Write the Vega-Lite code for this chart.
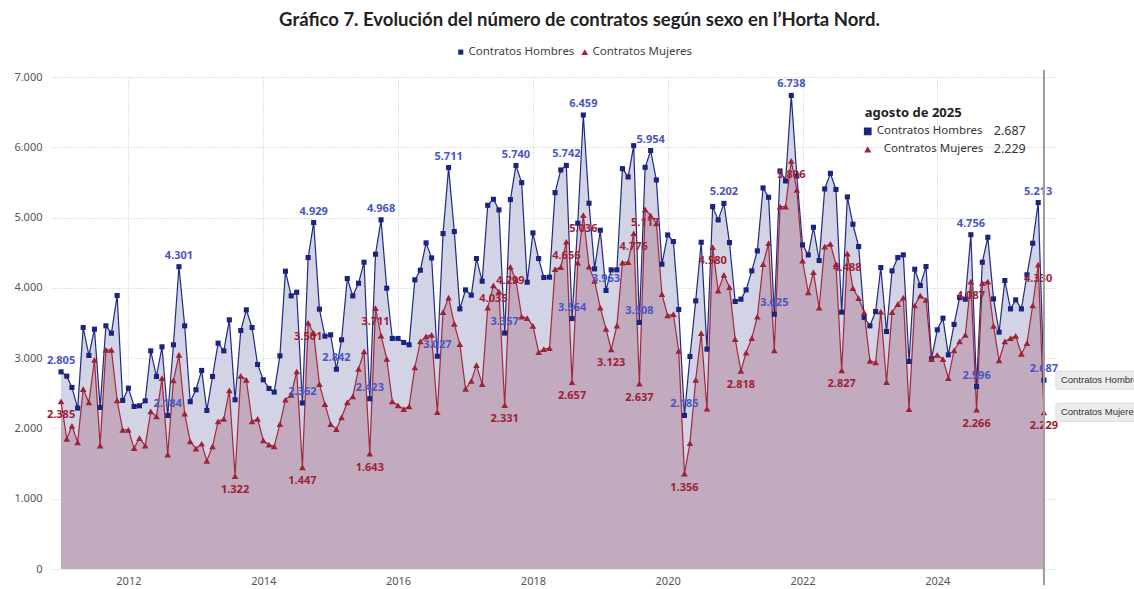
{
"$schema": "https://vega.github.io/schema/vega-lite/v6.json",
"width": 1003, "height": 492,
"autosize": {"type": "none"},
"padding": {"left": 52, "top": 77, "right": 79, "bottom": 20},
"background": "white",
"title": {"text": "Gráfico 7. Evolución del número de contratos según sexo en l’Horta Nord.", "anchor": "middle", "dx": 26, "offset": 17, "font": "Lato", "fontSize": 18.5, "fontWeight": "bold", "color": "#222222"},
"config": {
  "locale": {"number": {"decimal": ",", "thousands": ".", "grouping": [3], "currency": ["", " €"]}},
  "view": {"stroke": null},
  "axis": {"grid": true, "gridColor": "#c4c4c4", "gridDash": [1, 2], "domain": false, "ticks": false, "labelFont": "Noto Sans", "labelFontSize": 11, "labelColor": "#555555", "title": null}
},
"data": {"format": {"parse": {"d": "date:'%Y-%m'"}}, "values": [
{"d":"2011-01","h":2805,"m":2385,"lh":1,"lm":1},{"d":"2011-02","h":2744,"m":1853},{"d":"2011-03","h":2583,"m":2038},{"d":"2011-04","h":2289,"m":1801},{"d":"2011-05","h":3436,"m":2559},{"d":"2011-06","h":3038,"m":2370},{"d":"2011-07","h":3412,"m":2976},{"d":"2011-08","h":2299,"m":1754},{"d":"2011-09","h":3460,"m":3118},{"d":"2011-10","h":3355,"m":3118},{"d":"2011-11","h":3891,"m":2398},{"d":"2011-12","h":2398,"m":1981},
{"d":"2012-01","h":2573,"m":1981},{"d":"2012-02","h":2313,"m":1720},{"d":"2012-03","h":2322,"m":1863},{"d":"2012-04","h":2393,"m":1754},{"d":"2012-05","h":3104,"m":2242},{"d":"2012-06","h":2739,"m":2171},{"d":"2012-07","h":3161,"m":2716},{"d":"2012-08","h":2184,"m":1626,"lh":1},{"d":"2012-09","h":3190,"m":2682},{"d":"2012-10","h":4301,"m":3047,"lh":1},{"d":"2012-11","h":3460,"m":2209},{"d":"2012-12","h":2380,"m":1815},
{"d":"2013-01","h":2550,"m":1711},{"d":"2013-02","h":2825,"m":1782},{"d":"2013-03","h":2256,"m":1540},{"d":"2013-04","h":2739,"m":1744},{"d":"2013-05","h":3213,"m":2100},{"d":"2013-06","h":3104,"m":2137},{"d":"2013-07","h":3545,"m":2540},{"d":"2013-08","h":2408,"m":1322,"lm":1},{"d":"2013-09","h":3393,"m":2749},{"d":"2013-10","h":3687,"m":2692},{"d":"2013-11","h":3436,"m":2100},{"d":"2013-12","h":2910,"m":2137},
{"d":"2014-01","h":2692,"m":1829},{"d":"2014-02","h":2569,"m":1768},{"d":"2014-03","h":2517,"m":1744},{"d":"2014-04","h":3033,"m":2062},{"d":"2014-05","h":4237,"m":2408},{"d":"2014-06","h":3886,"m":2479},{"d":"2014-07","h":3938,"m":2810},{"d":"2014-08","h":2362,"m":1447,"lh":1,"lm":1},{"d":"2014-09","h":4431,"m":3501,"lm":1},{"d":"2014-10","h":4929,"m":3355,"lh":1},{"d":"2014-11","h":3697,"m":2630},{"d":"2014-12","h":3313,"m":2346},
{"d":"2015-01","h":3332,"m":2062},{"d":"2015-02","h":2842,"m":1990,"lh":1},{"d":"2015-03","h":3261,"m":2156},{"d":"2015-04","h":4133,"m":2370},{"d":"2015-05","h":3886,"m":2455},{"d":"2015-06","h":4066,"m":2848},{"d":"2015-07","h":4365,"m":3095},{"d":"2015-08","h":2423,"m":1643,"lh":1,"lm":1},{"d":"2015-09","h":4479,"m":3711,"lm":1},{"d":"2015-10","h":4968,"m":3322,"lh":1},{"d":"2015-11","h":3995,"m":2990},{"d":"2015-12","h":3280,"m":2384},
{"d":"2016-01","h":3280,"m":2327},{"d":"2016-02","h":3223,"m":2275},{"d":"2016-03","h":3190,"m":2313},{"d":"2016-04","h":4114,"m":2867},{"d":"2016-05","h":4251,"m":3237},{"d":"2016-06","h":4640,"m":3308},{"d":"2016-07","h":4426,"m":3332},{"d":"2016-08","h":3027,"m":2232,"lh":1},{"d":"2016-09","h":4772,"m":3654},{"d":"2016-10","h":5711,"m":3862,"lh":1},{"d":"2016-11","h":4801,"m":3488},{"d":"2016-12","h":3701,"m":3199},
{"d":"2017-01","h":3971,"m":2564},{"d":"2017-02","h":3896,"m":2678},{"d":"2017-03","h":4417,"m":2900},{"d":"2017-04","h":4095,"m":2630},{"d":"2017-05","h":5175,"m":3720},{"d":"2017-06","h":5260,"m":4035,"lm":1},{"d":"2017-07","h":5109,"m":3948},{"d":"2017-08","h":3357,"m":2331,"lh":1,"lm":1},{"d":"2017-09","h":5256,"m":4299,"lm":1},{"d":"2017-10","h":5740,"m":4109,"lh":1},{"d":"2017-11","h":5497,"m":3592},{"d":"2017-12","h":4080,"m":3569},
{"d":"2018-01","h":4782,"m":3460},{"d":"2018-02","h":4417,"m":3085},{"d":"2018-03","h":4147,"m":3128},{"d":"2018-04","h":4152,"m":3142},{"d":"2018-05","h":5355,"m":4265},{"d":"2018-06","h":5677,"m":4294},{"d":"2018-07","h":5742,"m":4656,"lh":1,"lm":1},{"d":"2018-08","h":3564,"m":2657,"lh":1,"lm":1},{"d":"2018-09","h":4919,"m":4360},{"d":"2018-10","h":6459,"m":5036,"lh":1,"lm":1},{"d":"2018-11","h":5204,"m":4303},{"d":"2018-12","h":4270,"m":4099},
{"d":"2019-01","h":4820,"m":3720},{"d":"2019-02","h":3963,"m":3417,"lh":1},{"d":"2019-03","h":4256,"m":3123,"lm":1},{"d":"2019-04","h":4256,"m":3464},{"d":"2019-05","h":5696,"m":4360},{"d":"2019-06","h":5578,"m":4365},{"d":"2019-07","h":6023,"m":4776,"lm":1},{"d":"2019-08","h":3508,"m":2637,"lh":1,"lm":1},{"d":"2019-09","h":5715,"m":5117,"lm":1},{"d":"2019-10","h":5954,"m":5028,"lh":1},{"d":"2019-11","h":5535,"m":4919},{"d":"2019-12","h":4336,"m":3910},
{"d":"2020-01","h":4753,"m":3607},{"d":"2020-02","h":4659,"m":3626},{"d":"2020-03","h":3692,"m":3104},{"d":"2020-04","h":2185,"m":1356,"lh":1,"lm":1},{"d":"2020-05","h":3024,"m":1791},{"d":"2020-06","h":3815,"m":2692},{"d":"2020-07","h":4649,"m":3355},{"d":"2020-08","h":3128,"m":2280},{"d":"2020-09","h":5156,"m":4580,"lm":1},{"d":"2020-10","h":4967,"m":3962},{"d":"2020-11","h":5202,"m":4185,"lh":1},{"d":"2020-12","h":4644,"m":4009},
{"d":"2021-01","h":3806,"m":3270},{"d":"2021-02","h":3839,"m":2818,"lm":1},{"d":"2021-03","h":3971,"m":3080},{"d":"2021-04","h":4242,"m":3284},{"d":"2021-05","h":4526,"m":3592},{"d":"2021-06","h":5422,"m":4336},{"d":"2021-07","h":5289,"m":4635},{"d":"2021-08","h":3625,"m":3109,"lh":1},{"d":"2021-09","h":5663,"m":5156},{"d":"2021-10","h":5521,"m":5156},{"d":"2021-11","h":6738,"m":5806,"lh":1,"lm":1},{"d":"2021-12","h":5592,"m":5393},
{"d":"2022-01","h":4611,"m":4389},{"d":"2022-02","h":4469,"m":3934},{"d":"2022-03","h":4862,"m":4223},{"d":"2022-04","h":4389,"m":3720},{"d":"2022-05","h":5407,"m":4588},{"d":"2022-06","h":5630,"m":4625},{"d":"2022-07","h":5400,"m":4336},{"d":"2022-08","h":3654,"m":2827,"lm":1},{"d":"2022-09","h":5294,"m":4488,"lm":1},{"d":"2022-10","h":4905,"m":3995},{"d":"2022-11","h":4588,"m":3853},{"d":"2022-12","h":3580,"m":3650},
{"d":"2023-01","h":3460,"m":2962},{"d":"2023-02","h":3663,"m":2938},{"d":"2023-03","h":4289,"m":3663},{"d":"2023-04","h":3379,"m":2659},{"d":"2023-05","h":4242,"m":3654},{"d":"2023-06","h":4431,"m":3768},{"d":"2023-07","h":4469,"m":3862},{"d":"2023-08","h":2953,"m":2275},{"d":"2023-09","h":4265,"m":3749},{"d":"2023-10","h":4033,"m":3891},{"d":"2023-11","h":4303,"m":3829},{"d":"2023-12","h":2990,"m":2986},
{"d":"2024-01","h":3403,"m":3047},{"d":"2024-02","h":3569,"m":2986},{"d":"2024-03","h":3047,"m":2716},{"d":"2024-04","h":3480,"m":3109},{"d":"2024-05","h":3862,"m":3237},{"d":"2024-06","h":3839,"m":3332},{"d":"2024-07","h":4756,"m":4087,"lh":1,"lm":1},{"d":"2024-08","h":2596,"m":2266,"lh":1,"lm":1},{"d":"2024-09","h":4365,"m":4066},{"d":"2024-10","h":4720,"m":4090},{"d":"2024-11","h":3843,"m":3460},{"d":"2024-12","h":3370,"m":2967},
{"d":"2025-01","h":4104,"m":3237},{"d":"2025-02","h":3701,"m":3284},{"d":"2025-03","h":3829,"m":3317},{"d":"2025-04","h":3701,"m":3062},{"d":"2025-05","h":4185,"m":3213},{"d":"2025-06","h":4635,"m":3749},{"d":"2025-07","h":5213,"m":4330,"lh":1,"lm":1},{"d":"2025-08","h":2687,"m":2229,"lh":1,"lm":1,"last":1}
]},
"transform": [
  {"fold": ["h", "m"], "as": ["k", "v"]},
  {"calculate": "datum.k == 'h' ? 'Contratos Hombres' : 'Contratos Mujeres'", "as": "serie"},
  {"calculate": "datum.k == 'h' ? datum.lh : datum.lm", "as": "lab"}
],
"encoding": {
  "x": {"field": "d", "type": "temporal",
    "scale": {"domain": [{"year": 2010, "month": 11, "date": 13}, {"year": 2025, "month": 9, "date": 30}]},
    "axis": {"values": [{"year": 2012, "month": 1, "date": 1}, {"year": 2014, "month": 1, "date": 1}, {"year": 2016, "month": 1, "date": 1}, {"year": 2018, "month": 1, "date": 1}, {"year": 2020, "month": 1, "date": 1}, {"year": 2022, "month": 1, "date": 1}, {"year": 2024, "month": 1, "date": 1}], "format": "%Y", "labelPadding": 6}}
},
"layer": [
  {"transform": [{"filter": "datum.k == 'h'"}], "mark": {"type": "area", "color": "#d2d4e6", "opacity": 1},
   "encoding": {"y": {"field": "v", "type": "quantitative", "scale": {"domain": [0, 7000]}, "axis": {"values": [0, 1000, 2000, 3000, 4000, 5000, 6000, 7000], "format": ",d", "labelPadding": 10}}}},
  {"transform": [{"filter": "datum.k == 'm'"}], "mark": {"type": "area", "color": "#c2abbf", "opacity": 1},
   "encoding": {"y": {"field": "v", "type": "quantitative"}}},
  {"transform": [{"filter": "datum.k == 'h'"}], "mark": {"type": "line", "color": "#1f2a80", "strokeWidth": 1.2},
   "encoding": {"y": {"field": "v", "type": "quantitative"}}},
  {"transform": [{"filter": "datum.k == 'm'"}], "mark": {"type": "line", "color": "#a3283b", "strokeWidth": 1.2},
   "encoding": {"y": {"field": "v", "type": "quantitative"}}},
  {"mark": {"type": "point", "filled": true, "opacity": 1},
   "encoding": {
     "y": {"field": "v", "type": "quantitative"},
     "color": {"field": "serie", "type": "nominal", "scale": {"domain": ["Contratos Hombres", "Contratos Mujeres"], "range": ["#1a237e", "#9e2236"]},
       "legend": {"title": null, "orient": "none", "legendX": 403, "legendY": -31, "direction": "horizontal", "labelFont": "Noto Sans", "labelFontSize": 11.5, "labelColor": "#404040", "symbolSize": 95, "columnPadding": 4, "labelOffset": 2}},
     "shape": {"field": "serie", "type": "nominal", "scale": {"domain": ["Contratos Hombres", "Contratos Mujeres"], "range": ["square", "triangle-up"]}},
     "size": {"field": "serie", "type": "nominal", "scale": {"domain": ["Contratos Hombres", "Contratos Mujeres"], "range": [26, 44]}, "legend": null}
   }},
  {"transform": [{"filter": "datum.k == 'h' && datum.lab == 1"}], "mark": {"type": "text", "dy": -11, "font": "Noto Sans", "fontSize": 11, "fontWeight": "bold", "color": "#4a55c2"},
   "encoding": {"y": {"field": "v", "type": "quantitative"}, "text": {"field": "v", "type": "quantitative", "format": ",d"}}},
  {"transform": [{"filter": "datum.k == 'm' && datum.lab == 1"}], "mark": {"type": "text", "dy": 14, "font": "Noto Sans", "fontSize": 11, "fontWeight": "bold", "color": "#9e2236"},
   "encoding": {"y": {"field": "v", "type": "quantitative"}, "text": {"field": "v", "type": "quantitative", "format": ",d"}}},
  {"transform": [{"filter": "datum.k == 'h' && datum.last == 1"}], "mark": {"type": "rule", "color": "#9c9c9c", "strokeWidth": 2},
   "encoding": {"y": {"datum": -230}, "y2": {"datum": 7100}}},
  {"transform": [{"filter": "datum.last == 1"}], "mark": {"type": "point", "filled": true, "opacity": 1, "fill": "#ececec", "stroke": "#d4d4d4", "strokeWidth": 0.8, "size": 1600,
     "shape": "M0.7,-0.45 H5 V0.45 H0.7 Q0.6,0.45 0.6,0.35 V-0.35 Q0.6,-0.45 0.7,-0.45 Z"},
   "encoding": {"y": {"field": "v", "type": "quantitative"}}},
  {"transform": [{"filter": "datum.last == 1"}], "mark": {"type": "text", "align": "left", "dx": 17, "font": "Liberation Sans", "fontSize": 9.5, "color": "#333333"},
   "encoding": {"y": {"field": "v", "type": "quantitative"}, "text": {"field": "serie", "type": "nominal"}}},
  {"transform": [{"filter": "datum.k == 'h' && datum.last == 1"}], "mark": {"type": "text", "text": "agosto de 2025", "align": "left", "font": "Noto Sans", "fontSize": 13, "fontWeight": "bold", "color": "#222222"},
   "encoding": {"x": {"datum": {"year": 2022, "month": 12, "date": 4}, "type": "temporal"}, "y": {"datum": 6482}}},
  {"transform": [{"filter": "datum.k == 'h' && datum.last == 1"}], "mark": {"type": "point", "shape": "square", "filled": true, "opacity": 1, "color": "#1a237e", "size": 60, "xOffset": 3},
   "encoding": {"x": {"datum": {"year": 2022, "month": 12, "date": 4}, "type": "temporal"}, "y": {"datum": 6226}}},
  {"transform": [{"filter": "datum.k == 'm' && datum.last == 1"}], "mark": {"type": "point", "shape": "triangle-up", "filled": true, "opacity": 1, "color": "#9e2236", "size": 50, "xOffset": 3},
   "encoding": {"x": {"datum": {"year": 2022, "month": 12, "date": 4}, "type": "temporal"}, "y": {"datum": 5970}}},
  {"transform": [{"filter": "datum.k == 'h' && datum.last == 1"}], "mark": {"type": "text", "align": "left", "dx": 12, "font": "Noto Sans", "fontSize": 11.5, "color": "#333333"},
   "encoding": {"x": {"datum": {"year": 2022, "month": 12, "date": 4}, "type": "temporal"}, "y": {"datum": 6226}, "text": {"field": "serie", "type": "nominal"}}},
  {"transform": [{"filter": "datum.k == 'm' && datum.last == 1"}], "mark": {"type": "text", "align": "left", "dx": 19, "font": "Noto Sans", "fontSize": 11.5, "color": "#333333"},
   "encoding": {"x": {"datum": {"year": 2022, "month": 12, "date": 4}, "type": "temporal"}, "y": {"datum": 5970}, "text": {"field": "serie", "type": "nominal"}}},
  {"transform": [{"filter": "datum.k == 'h' && datum.last == 1"}], "mark": {"type": "text", "align": "left", "dx": 129, "font": "Noto Sans", "fontSize": 12.5, "color": "#333333"},
   "encoding": {"x": {"datum": {"year": 2022, "month": 12, "date": 4}, "type": "temporal"}, "y": {"datum": 6226}, "text": {"field": "v", "type": "quantitative", "format": ",d"}}},
  {"transform": [{"filter": "datum.k == 'm' && datum.last == 1"}], "mark": {"type": "text", "align": "left", "dx": 129, "font": "Noto Sans", "fontSize": 12.5, "color": "#333333"},
   "encoding": {"x": {"datum": {"year": 2022, "month": 12, "date": 4}, "type": "temporal"}, "y": {"datum": 5970}, "text": {"field": "v", "type": "quantitative", "format": ",d"}}}
]
}
